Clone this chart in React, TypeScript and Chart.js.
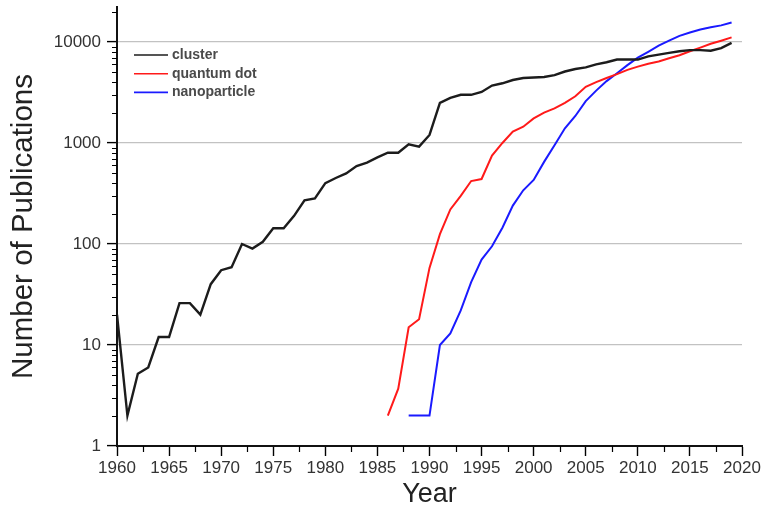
import React, { useEffect, useRef } from "react";
import { Chart, registerables } from "chart.js";

Chart.register(...registerables);

const clusterYears = [
  1960, 1961, 1962, 1963, 1964, 1965, 1966, 1967, 1968, 1969,
  1970, 1971, 1972, 1973, 1974, 1975, 1976, 1977, 1978, 1979,
  1980, 1981, 1982, 1983, 1984, 1985, 1986, 1987, 1988, 1989,
  1990, 1991, 1992, 1993, 1994, 1995, 1996, 1997, 1998, 1999,
  2000, 2001, 2002, 2003, 2004, 2005, 2006, 2007, 2008, 2009,
  2010, 2011, 2012, 2013, 2014, 2015, 2016, 2017, 2018, 2019,
];
const clusterValues = [
  20, 2, 5.2, 6, 12, 12, 26, 26, 20, 40,
  55, 59, 100, 90, 105, 143, 143, 190, 270, 283,
  400, 450, 500, 590, 640, 720, 800, 800, 970, 920,
  1200, 2500, 2800, 3000, 3000, 3200, 3700, 3900, 4200, 4400,
  4450, 4500, 4700, 5100, 5400, 5600, 6000, 6300, 6700, 6700,
  6700, 7200, 7500, 7800, 8100, 8300, 8300, 8200, 8700, 9800,
];

const qdotYears = [
  1986, 1987, 1988, 1989, 1990, 1991, 1992, 1993, 1994, 1995,
  1996, 1997, 1998, 1999, 2000, 2001, 2002, 2003, 2004, 2005,
  2006, 2007, 2008, 2009, 2010, 2011, 2012, 2013, 2014, 2015,
  2016, 2017, 2018, 2019,
];
const qdotValues = [
  2, 3.7, 15, 18, 58, 125, 220, 300, 420, 440,
  750, 1000, 1300, 1450, 1750, 2000, 2200, 2500, 2900, 3600,
  4000, 4400, 4800, 5300, 5700, 6100, 6400, 6900, 7400, 8100,
  8800, 9600, 10300, 11100,
];

const nanoYears = [
  1988, 1989, 1990, 1991, 1992, 1993, 1994, 1995, 1996, 1997,
  1998, 1999, 2000, 2001, 2002, 2003, 2004, 2005, 2006, 2007,
  2008, 2009, 2010, 2011, 2012, 2013, 2014, 2015, 2016, 2017,
  2018, 2019,
];
const nanoValues = [
  2, 2, 2, 10, 13, 22, 42, 70, 95, 145,
  240, 340, 430, 650, 950, 1400, 1850, 2600, 3300, 4100,
  4900, 5900, 7000, 8000, 9200, 10300, 11500, 12400, 13300, 14000,
  14600, 15600,
];

const seriesNames = ["cluster", "quantum dot", "nanoparticle"];
const seriesColors = ["#1c1c1c", "#ff1a1a", "#1a1aff"];

const yTickValues = [1, 10, 100, 1000, 10000];
const xMinorTicks = [
  1962.5, 1967.5, 1972.5, 1977.5, 1982.5, 1987.5, 1992.5, 1997.5, 2002.5,
  2007.5, 2012.5, 2017.5,
];
const yMinorMultipliers = [2, 3, 4, 5, 6, 7, 8, 9];

const FONT = "'Liberation Sans', Arial, sans-serif";

const toPoints = (xs: number[], ys: number[]) =>
  xs.map((x, i) => ({ x, y: ys[i] }));

const minorTicksPlugin = {
  id: "minorTicks",
  afterDraw(chart: any) {
    const { ctx } = chart;
    const xs = chart.scales.x;
    const ys = chart.scales.y;
    ctx.save();
    ctx.strokeStyle = "#000";
    ctx.lineWidth = 1.2;
    ctx.beginPath();
    for (const v of xMinorTicks) {
      const px = Math.round(xs.getPixelForValue(v)) + 0.5;
      ctx.moveTo(px, ys.bottom);
      ctx.lineTo(px, ys.bottom + 6);
    }
    for (const d of yTickValues) {
      for (const m of yMinorMultipliers) {
        const v = d * m;
        if (v > ys.max) continue;
        const py = Math.round(ys.getPixelForValue(v)) + 0.5;
        ctx.moveTo(xs.left, py);
        ctx.lineTo(xs.left - 5, py);
      }
    }
    ctx.stroke();
    ctx.restore();
  },
};

const legendPlugin = {
  id: "customLegend",
  afterDraw(chart: any) {
    const { ctx } = chart;
    const x0 = chart.chartArea.left + 17;
    const y0 = 55;
    ctx.save();
    ctx.font = `bold 14px ${FONT}`;
    ctx.textBaseline = "middle";
    ctx.textAlign = "left";
    chart.data.datasets.forEach((ds: any, i: number) => {
      const y = y0 + i * 18.7;
      ctx.strokeStyle = ds.borderColor;
      ctx.lineWidth = 1.6;
      ctx.beginPath();
      ctx.moveTo(x0, y);
      ctx.lineTo(x0 + 34, y);
      ctx.stroke();
      ctx.fillStyle = "#4a4a4a";
      ctx.fillText(ds.label, x0 + 38, y);
    });
    ctx.restore();
  },
};

export default function App() {
  const canvasRef = useRef<HTMLCanvasElement | null>(null);

  useEffect(() => {
    if (!canvasRef.current) return;
    const chart = new Chart(canvasRef.current, {
      type: "line",
      data: {
        datasets: [
          {
            label: seriesNames[0],
            data: toPoints(clusterYears, clusterValues),
            borderColor: seriesColors[0],
            borderWidth: 2.4,
          },
          {
            label: seriesNames[1],
            data: toPoints(qdotYears, qdotValues),
            borderColor: seriesColors[1],
            borderWidth: 2,
          },
          {
            label: seriesNames[2],
            data: toPoints(nanoYears, nanoValues),
            borderColor: seriesColors[2],
            borderWidth: 2,
          },
        ],
      },
      options: {
        animation: false,
        responsive: false,
        events: [],
        layout: { padding: { left: 0, right: 24, top: 7, bottom: 0 } },
        elements: { point: { radius: 0 }, line: { tension: 0 } },
        plugins: {
          legend: { display: false },
          tooltip: { enabled: false },
        },
        scales: {
          x: {
            type: "linear",
            min: 1960,
            max: 2020,
            afterFit(scale: any) {
              scale.height = 62;
              scale.paddingLeft = 0;
              scale.paddingRight = 0;
            },
            ticks: {
              stepSize: 5,
              autoSkip: false,
              maxRotation: 0,
              padding: 2,
              color: "#333",
              font: { family: FONT, size: 17 },
              callback: (v: any) => String(v),
            },
            grid: {
              drawOnChartArea: false,
              drawTicks: true,
              tickLength: 10,
              tickColor: "#000",
              tickWidth: 1.4,
            },
            border: { color: "#111", width: 2 },
            title: {
              display: true,
              text: "Year",
              color: "#222",
              font: { family: FONT, size: 27, lineHeight: 1 },
              padding: { top: 0, bottom: 0 },
            },
          },
          y: {
            type: "logarithmic",
            min: 1,
            max: 22200,
            afterFit(scale: any) {
              scale.width = 117;
              scale.paddingTop = 0;
              scale.paddingBottom = 0;
            },
            afterBuildTicks(scale: any) {
              scale.ticks = yTickValues.map((v) => ({ value: v }));
            },
            ticks: {
              autoSkip: false,
              padding: 6,
              color: "#333",
              font: { family: FONT, size: 17 },
              callback: (v: any) => String(v),
            },
            grid: {
              drawOnChartArea: true,
              drawTicks: true,
              tickLength: 10,
              tickColor: "#000",
              tickWidth: 1.4,
              lineWidth: 1.2,
              color: (c: any) =>
                c.tick && c.tick.value === 1 ? "rgba(0,0,0,0)" : "#c2c2c2",
            },
            border: { color: "#111", width: 2 },
            title: {
              display: true,
              text: "Number of Publications",
              color: "#222",
              font: { family: FONT, size: 29.5 },
              padding: { top: 6, bottom: 0 },
            },
          },
        },
      },
      plugins: [minorTicksPlugin, legendPlugin],
    } as any);
    return () => chart.destroy();
  }, []);

  return (
    <div
      style={{
        position: "absolute",
        left: 0,
        top: 0,
        width: 766,
        height: 508,
        background: "#fff",
      }}
    >
      <canvas ref={canvasRef} width={766} height={508} />
    </div>
  );
}
